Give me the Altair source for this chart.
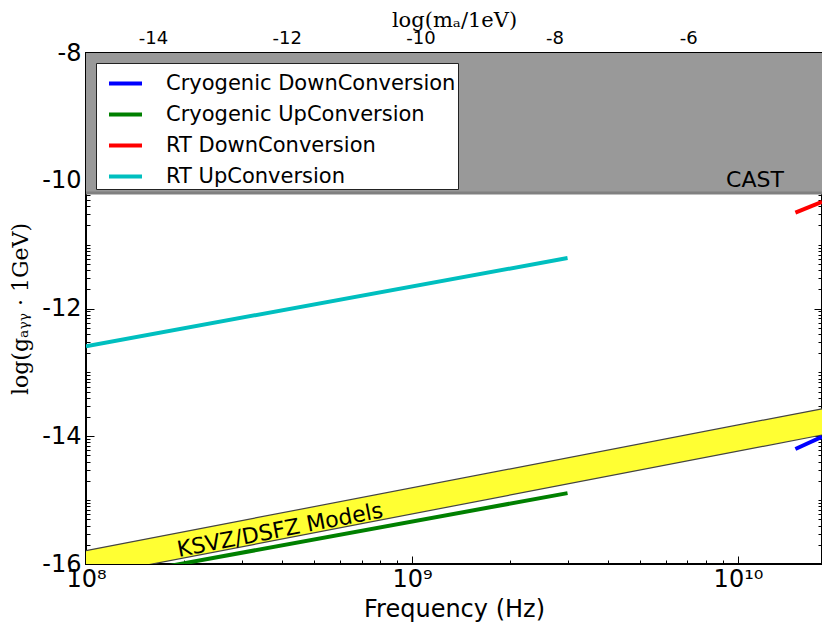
import math
import altair as alt
import pandas as pd

# ---------------- data ----------------
X_MIN, X_MAX = 1e8, 1.81e10
Y_MIN, Y_MAX = -16, -8
TOP_MIN, TOP_MAX = -15, -4

series_names = ["Cryogenic DownConversion", "Cryogenic UpConversion",
                "RT DownConversion", "RT UpConversion"]
series_colors = ["#0000ff", "#008000", "#ff0000", "#00bfbf"]

cryo_down_f = [1.5e10, 1.81e10]
cryo_down_g = [-14.20, -14.01]
cryo_up_f = [1e8, 3.0e9]
cryo_up_g = [-16.27, -14.89]
rt_down_f = [1.5e10, 1.81e10]
rt_down_g = [-10.50, -10.33]
rt_up_f = [1e8, 3.0e9]
rt_up_g = [-12.59, -11.21]

cast_f = [1e8, 1.81e10]
cast_lower = [-10.19, -10.19]
cast_upper = [-8.0, -8.0]

band_f = [1e8, 1.81e10]
band_upper = [-15.79, -13.57]
band_lower = [-16.20, -13.98]

cast_label = ["CAST"]
cast_label_f = [1.127e10]
cast_label_g = [-10.10]

band_label = ["KSVZ/DSFZ Models"]
band_label_f = [3.94e8]
band_label_g = [-15.47]

x_major = [1e8, 1e9, 1e10]
x_major_labels = ["10⁸", "10⁹", "10¹⁰"]
y_labels = [-16, -14, -12, -10, -8]
top_labels = [-14, -12, -10, -8, -6]

# ---------------- tables ----------------
rows = []
for name, fs, gs in [(series_names[0], cryo_down_f, cryo_down_g),
                     (series_names[1], cryo_up_f, cryo_up_g),
                     (series_names[2], rt_down_f, rt_down_g),
                     (series_names[3], rt_up_f, rt_up_g)]:
    for f, g in zip(fs, gs):
        rows.append({"series": name, "f": f, "g": g})
lines_df = pd.DataFrame(rows)
cast_df = pd.DataFrame({"f": cast_f, "lo": cast_lower, "hi": cast_upper})
band_df = pd.DataFrame({"f": band_f, "up": band_upper, "lo": band_lower})
cast_txt = pd.DataFrame({"f": cast_label_f, "g": cast_label_g, "t": cast_label})
band_txt = pd.DataFrame({"f": band_label_f, "g": band_label_g, "t": band_label})

# ---------------- tick positions ----------------
x_vals = [d * k for d in x_major for k in range(1, 10) if d * k <= X_MAX]
y_vals = []
for d in range(Y_MIN, Y_MAX):
    y_vals.append(d)
    for k in range(2, 10):
        y_vals.append(round(d + math.log10(k), 6))
y_vals.append(Y_MAX)
top_vals = []
for d in range(TOP_MIN, TOP_MAX):
    top_vals.append(d)
    for k in range(2, 10):
        top_vals.append(round(d + math.log10(k), 6))
top_vals.append(TOP_MAX)

x_label_expr = " : ".join(
    f"datum.value == {int(v)} ? '{lab}'" for v, lab in zip(x_major, x_major_labels)
) + " : ''"
x_minor_test = f"indexof({[int(v) for v in x_major]}, datum.value) < 0"
y_list = str(y_labels)
top_list = str(top_labels)

TICK = 8
MINOR_DASH = [0, 4, 4]
FONT = "DejaVu Sans"
SERIF = "DejaVu Serif"

x_scale = alt.Scale(type="log", domain=[X_MIN, X_MAX], nice=False)
y_scale = alt.Scale(domain=[Y_MIN, Y_MAX], nice=False, zero=False)

x_axis = alt.Axis(
    values=x_vals, labelExpr=x_label_expr, tickSize=TICK, offset=-TICK,
    tickDash={"condition": {"test": x_minor_test, "value": MINOR_DASH}, "value": []},
    domain=False, grid=False, labelPadding=3, labelFontSize=24, labelFont=FONT,
    labelColor="black", tickColor="black", labelFlush=False, labelOverlap=False,
    title="Frequency (Hz)", titleFont=FONT, titleFontSize=24, titleFontWeight="normal",
    titleColor="black", titlePadding=6,
)
y_axis = alt.Axis(
    values=y_vals,
    labelExpr=f"indexof({y_list}, datum.value) >= 0 ? toString(datum.value) : ''",
    tickSize=TICK, offset=-TICK,
    tickDash={"condition": {"test": f"indexof({y_list}, datum.value) < 0", "value": MINOR_DASH}, "value": []},
    domain=False, grid=False, labelPadding=5, labelFontSize=24, labelFont=FONT,
    labelColor="black", tickColor="black", labelFlush=False, labelOverlap=False,
    title="log(gₐᵧᵧ · 1GeV)", titleFont=SERIF, titleFontSize=22, titleFontWeight="normal",
    titleColor="black", titlePadding=9,
)

X = alt.X("f:Q", scale=x_scale, axis=x_axis)


def Y(field):
    return alt.Y(field, scale=y_scale, axis=y_axis)


cast_area = alt.Chart(cast_df).mark_area(color="#999999", clip=True).encode(
    x=X, y=Y("lo:Q"), y2="hi:Q")
cast_edge = alt.Chart(cast_df).mark_line(color="#808080", strokeWidth=3, clip=True).encode(
    x=X, y=Y("lo:Q"))
band_area = alt.Chart(band_df).mark_area(color="#ffff33", clip=True).encode(
    x=X, y=Y("up:Q"), y2="lo:Q")
band_up = alt.Chart(band_df).mark_line(color="#444444", strokeWidth=1.2, clip=True).encode(
    x=X, y=Y("up:Q"))
band_lo = alt.Chart(band_df).mark_line(color="#444444", strokeWidth=1.2, clip=True).encode(
    x=X, y=Y("lo:Q"))
series = alt.Chart(lines_df).mark_line(strokeWidth=4, clip=True).encode(
    x=X, y=Y("g:Q"),
    color=alt.Color("series:N", scale=alt.Scale(domain=series_names, range=series_colors),
                    legend=alt.Legend(orient="none", legendX=10, legendY=10, title=None,
                                      symbolType="stroke", symbolSize=1089, symbolStrokeWidth=4,
                                      labelFontSize=21, labelFont=FONT, labelColor="black",
                                      strokeColor="#222222", fillColor="white", padding=2,
                                      rowPadding=2, labelOffset=22, cornerRadius=0,
                                      symbolOffset=9, labelLimit=400)),
    detail="series:N")
cast_text = alt.Chart(cast_txt).mark_text(fontSize=22, font=FONT, color="black",
                                          align="center", baseline="alphabetic").encode(
    x=X, y=Y("g:Q"), text="t:N")
band_text = alt.Chart(band_txt).mark_text(fontSize=22, font=FONT, color="black",
                                          align="center", baseline="middle", angle=349).encode(
    x=X, y=Y("g:Q"), text="t:N")

main = alt.layer(cast_area, cast_edge, band_area, band_up, band_lo, series, cast_text, band_text)

# top (mass) axis and right mirror axis
frame_df = pd.DataFrame({"m": [TOP_MIN, TOP_MAX], "g": [Y_MIN, Y_MAX]})
top_axis = alt.Axis(
    orient="top", values=top_vals,
    labelExpr=f"indexof({top_list}, datum.value) >= 0 ? toString(datum.value) : ''",
    tickSize=TICK, offset=-TICK,
    tickDash={"condition": {"test": f"indexof({top_list}, datum.value) < 0", "value": MINOR_DASH}, "value": []},
    domain=False, grid=False, labelPadding=6, labelFontSize=18, labelFont=FONT,
    labelColor="black", tickColor="black", labelFlush=False, labelOverlap=False,
    title="log(mₐ/1eV)", titleFont=SERIF, titleFontSize=21, titleFontWeight="normal",
    titleColor="black", titleY=-35, titleBaseline="alphabetic",
)
right_axis = alt.Axis(
    orient="right", values=y_vals, labels=False, title=None,
    tickSize=TICK, offset=-TICK,
    tickDash={"condition": {"test": f"indexof({y_list}, datum.value) < 0", "value": MINOR_DASH}, "value": []},
    domain=False, grid=False, tickColor="black",
)
mirror = alt.Chart(frame_df).mark_point(opacity=0).encode(
    x=alt.X("m:Q", scale=alt.Scale(domain=[TOP_MIN, TOP_MAX], nice=False, zero=False), axis=top_axis),
    y=alt.Y("g:Q", scale=alt.Scale(domain=[Y_MIN, Y_MAX], nice=False, zero=False), axis=right_axis),
)

chart = alt.layer(main, mirror).resolve_scale(x="independent", y="independent").properties(
    width=736, height=511,
    autosize=alt.AutoSizeParams(type="none"),
    padding={"left": 78, "top": 45, "right": 0, "bottom": 61},
).configure_view(stroke="black", strokeWidth=2).configure_axis(labelOverlap=False)

chart.save("out.html", embed_options={"renderer": "svg", "actions": False})
